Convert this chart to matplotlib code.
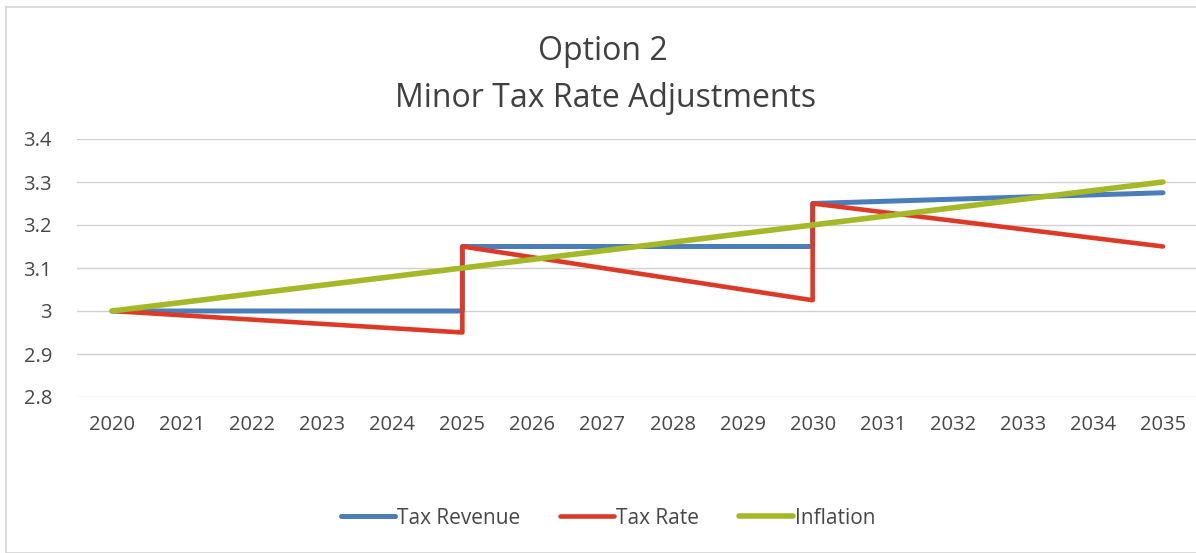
import matplotlib
matplotlib.use("Agg")
import matplotlib.pyplot as plt
from matplotlib.patches import Rectangle

plt.rcParams['font.family'] = ['Open Sans', 'DejaVu Sans']

years = list(range(2020, 2036))
year_labels = [str(y) for y in years]

rev_x = [2020, 2025, 2025, 2030, 2030, 2035]
rev_y = [3.0, 3.0, 3.15, 3.15, 3.25, 3.275]

rate_x = [2020, 2025, 2025, 2030, 2030, 2035]
rate_y = [3.0, 2.95, 3.15, 3.025, 3.25, 3.15]

infl_x = [2020, 2035]
infl_y = [3.0, 3.3]

yticks = [2.8, 2.9, 3.0, 3.1, 3.2, 3.3, 3.4]
ytick_labels = ['2.8', '2.9', '3', '3.1', '3.2', '3.3', '3.4']

W, H = 1196, 553
fig = plt.figure(figsize=(W / 100, H / 100), dpi=100)
fig.patch.set_facecolor('white')

# chart border
fig.patches.append(Rectangle((6 / W, 0), 1.2, 1 - 7 / H, transform=fig.transFigure,
                             fill=False, edgecolor='#d4d4d4', linewidth=1.2))

left, right, top, bottom = 77, 1198, 139, 397
ax = fig.add_axes([left / W, 1 - bottom / H, (right - left) / W, (bottom - top) / H])
ax.set_xlim(2019.5, 2035.5)
ax.set_ylim(2.8, 3.4)

text_color = '#474747'
ax.plot(rev_x, rev_y, color='#4a7ebb', lw=3.6, solid_capstyle='round', label='Tax Revenue', zorder=3)
ax.plot(rate_x, rate_y, color='#dc3a26', lw=3.3, solid_capstyle='round', label='Tax Rate', zorder=4)
ax.plot(infl_x, infl_y, color='#a4b828', lw=4, solid_capstyle='round', label='Inflation', zorder=5)

ax.set_yticks(yticks)
ax.set_yticklabels(ytick_labels)
ax.set_xticks(years)
ax.set_xticklabels(year_labels)
ax.tick_params(axis='both', length=0, labelsize=14.5, colors=text_color)
for lab in ax.get_xticklabels() + ax.get_yticklabels():
    lab.set_fontweight('medium')
ax.tick_params(axis='x', pad=13)
ax.tick_params(axis='y', pad=18)
ax.grid(axis='y', color='#d0d0d0', lw=1)
for s in ax.spines.values():
    s.set_visible(False)
ax.set_facecolor('none')

fig.text(603 / W, 1 - 52 / H, 'Option 2', ha='center', va='center', fontsize=23, color='#404040')
fig.text(606 / W, 1 - 98 / H, 'Minor Tax Rate Adjustments', ha='center', va='center', fontsize=23, color='#404040')

leg = fig.legend(loc='center', bbox_to_anchor=(608 / W, 1 - 518 / H), ncol=3, frameon=False,
                 fontsize=15, handlelength=2.6, handletextpad=0.1, columnspacing=1.9)
for t in leg.get_texts():
    t.set_color(text_color)

fig.savefig('out.png', dpi=100, facecolor='white')
